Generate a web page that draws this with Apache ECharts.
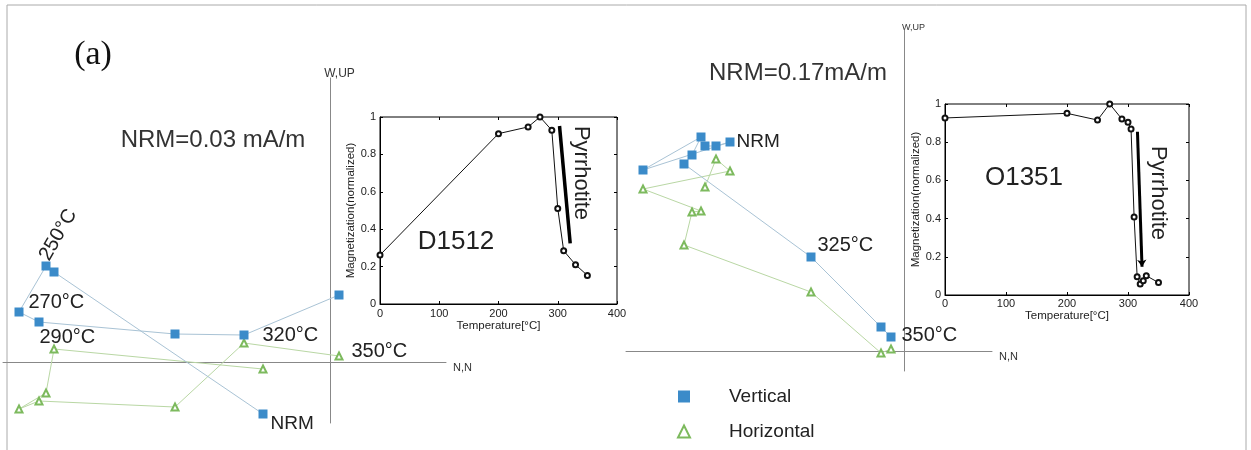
<!DOCTYPE html>
<html>
<head>
<meta charset="utf-8">
<script src="https://cdn.jsdelivr.net/npm/echarts@6/dist/echarts.min.js"></script>
<style>
html,body{margin:0;padding:0;background:#fff}
#main{width:1251px;height:450px}
</style>
</head>
<body>
<div id="main"></div>
<script>
// D1512 zijderveld: N component, vertical (Up) and horizontal (E) projections
var leftN  = [-0.67, -2.76, -2.84, -3.11, -2.91, -1.55, -0.86, 0.09];
var leftUp = [-0.52, 0.90, 0.96, 0.50, 0.40, 0.28, 0.27, 0.67];
var leftE  = [-0.07, 0.13, -0.31, -0.47, -0.39, -0.45, 0.19, 0.06];

// O1351 zijderveld
var rightN  = [-1.99, -1.88, -1.74, -2.61, -2.03, -2.12, -2.20, -0.93, -0.23, -0.13];
var rightUp = [2.05, 2.05, 2.09, 1.81, 2.14, 1.96, 1.87, 0.94, 0.24, 0.14];
var rightE  = [1.64, 1.92, 1.80, 1.62, 1.40, 1.39, 1.06, 0.59, -0.02, 0.02];

// thermal demagnetization curves (insets)
var d1512Temp = [0, 200, 250, 270, 290, 300, 310, 330, 350];
var d1512Mag  = [0.262, 0.911, 0.947, 1.0, 0.929, 0.511, 0.285, 0.21, 0.153];
var o1351Temp = [0, 200, 250, 270, 290, 300, 305, 310, 315, 320, 325, 330, 350];
var o1351Mag  = [0.927, 0.951, 0.916, 1.0, 0.921, 0.904, 0.869, 0.408, 0.096, 0.058, 0.075, 0.101, 0.065];

// pyrrhotite marker bars
var d1512Bar = [[303, 0.952], [321, 0.324]];
var o1351Bar = [[315.5, 0.855], [323, 0.148]];

var FONT = 'Liberation Sans';
var labelBase = {show: true, fontFamily: FONT, fontSize: 20, color: '#222', position: 'right'};

// step labels: index -> [text, offset, extra]
var leftVertLabels = {
    0: ['NRM', [-2, 10], {fontSize: 19}],
    2: ['250°C', [33, -5], {position: 'inside', rotate: 60}],
    3: ['270°C', [0, -10]],
    4: ['290°C', [-9, 15]],
    6: ['320°C', [9, 0]]
};
var leftHorLabels = {7: ['350°C', [3, -5]]};
var rightVertLabels = {
    2: ['NRM', [-3, 0], {fontSize: 19}],
    7: ['325°C', [-3, -12]],
    9: ['350°C', [1, -2]]
};

function buildPoints(xs, ys, labels) {
    return xs.map(function (x, i) {
        var item = {value: [x, ys[i]]};
        var l = labels[i];
        if (l) {
            item.label = Object.assign({}, labelBase, {formatter: l[0], offset: l[1]}, l[2] || {});
        }
        return item;
    });
}

function pairs(xs, ys) {
    return xs.map(function (x, i) { return [x, ys[i]]; });
}

var BLUE = '#3b8bc9', BLUE_LINE = '#a9c3d5';
var GREEN = '#7dba5e', GREEN_LINE = '#b9d7a4';

function zijAxisX(grid, min, max, nameSize) {
    return {
        gridIndex: grid, type: 'value', min: min, max: max,
        axisLine: {onZero: true, lineStyle: {color: '#888', width: 1}},
        axisTick: {show: false}, axisLabel: {show: false}, splitLine: {show: false},
        name: 'N,N', nameLocation: 'end', nameGap: 7,
        nameTextStyle: {fontFamily: FONT, fontSize: nameSize, color: '#333', verticalAlign: 'top'}
    };
}
function zijAxisY(grid, min, max, nameSize) {
    return {
        gridIndex: grid, type: 'value', min: min, max: max,
        axisLine: {onZero: true, lineStyle: {color: '#888', width: 1}},
        axisTick: {show: false}, axisLabel: {show: false}, splitLine: {show: false},
        name: 'W,UP', nameLocation: 'end', nameGap: -2,
        nameTextStyle: {fontFamily: FONT, fontSize: nameSize, color: '#333', padding: [0, 0, 0, 19]}
    };
}
function insetX(grid, top, margin, gap) {
    return {
        gridIndex: grid, type: 'value', min: 0, max: 400, interval: 100,
        position: top ? 'top' : 'bottom',
        axisLine: {show: !top, onZero: false, lineStyle: {color: '#000'}},
        axisTick: {inside: true, length: 3, lineStyle: {color: '#000'}},
        axisLabel: {show: !top, margin: margin, fontFamily: FONT, fontSize: 11, color: '#222'},
        splitLine: {show: false},
        name: top ? '' : 'Temperature[°C]', nameLocation: 'middle', nameGap: gap,
        nameTextStyle: {fontFamily: FONT, fontSize: 11.5, color: '#222'}
    };
}
function insetY(grid, right, gap) {
    return {
        gridIndex: grid, type: 'value', min: 0, max: 1, interval: 0.2,
        position: right ? 'right' : 'left',
        axisLine: {show: !right, onZero: false, lineStyle: {color: '#000'}},
        axisTick: {inside: true, length: 3, lineStyle: {color: '#000'}},
        axisLabel: {show: !right, margin: 4, fontFamily: FONT, fontSize: 11, color: '#222'},
        splitLine: {show: false},
        name: right ? '' : 'Magnetization(normalized)', nameLocation: 'middle', nameGap: gap,
        nameTextStyle: {fontFamily: FONT, fontSize: 11.5, color: '#222'}
    };
}

var chart = echarts.init(document.getElementById('main'));

var option = {
    animation: false,
    backgroundColor: '#fff',
    grid: [
        {left: 3, top: 78, width: 443, height: 345},
        {left: 626, top: 30, width: 366, height: 341},
        {left: 380, top: 117, width: 237, height: 187, show: true, borderColor: '#000', borderWidth: 1},
        {left: 945, top: 104, width: 244, height: 191, show: true, borderColor: '#000', borderWidth: 1}
    ],
    xAxis: [
        zijAxisX(0, -3.27, 1.16, 11),
        zijAxisX(1, -2.78, 0.88, 11),
        insetX(2, false, 4, 15),
        insetX(3, false, 3, 14),
        insetX(2, true),
        insetX(3, true)
    ],
    yAxis: [
        zijAxisY(0, -0.61, 2.84, 12),
        zijAxisY(1, -0.20, 3.21, 9),
        insetY(2, false, 21),
        insetY(3, false, 20),
        insetY(2, true),
        insetY(3, true)
    ],
    legend: {
        orient: 'vertical', left: 672, top: 382, itemWidth: 12, itemHeight: 12, itemGap: 16,
        data: [{name: 'Vertical', icon: 'rect'}, {name: 'Horizontal', icon: 'emptyTriangle'}],
        textStyle: {fontFamily: FONT, fontSize: 19, color: '#222', padding: [0, 0, 0, 34]}
    },
    series: [
        {
            name: 'Vertical', type: 'line', xAxisIndex: 0, yAxisIndex: 0,
            symbol: 'rect', symbolSize: 9, z: 4,
            itemStyle: {color: BLUE}, lineStyle: {color: BLUE_LINE, width: 1},
            label: {show: false},
            data: buildPoints(leftN, leftUp, leftVertLabels)
        },
        {
            name: 'Horizontal', type: 'line', xAxisIndex: 0, yAxisIndex: 0,
            symbol: 'emptyTriangle', symbolSize: 7, z: 3,
            itemStyle: {color: GREEN, borderWidth: 1}, lineStyle: {color: GREEN_LINE, width: 1},
            label: {show: false},
            data: buildPoints(leftN, leftE, leftHorLabels)
        },
        {
            name: 'Vertical', type: 'line', xAxisIndex: 1, yAxisIndex: 1,
            symbol: 'rect', symbolSize: 9, z: 4,
            itemStyle: {color: BLUE}, lineStyle: {color: BLUE_LINE, width: 1},
            label: {show: false},
            data: buildPoints(rightN, rightUp, rightVertLabels)
        },
        {
            name: 'Horizontal', type: 'line', xAxisIndex: 1, yAxisIndex: 1,
            symbol: 'emptyTriangle', symbolSize: 7, z: 3,
            itemStyle: {color: GREEN, borderWidth: 1}, lineStyle: {color: GREEN_LINE, width: 1},
            label: {show: false},
            data: buildPoints(rightN, rightE, {})
        },
        {
            name: 'D1512', type: 'line', xAxisIndex: 2, yAxisIndex: 2,
            symbol: 'emptyCircle', symbolSize: 5,
            itemStyle: {color: '#111'}, lineStyle: {color: '#111', width: 1},
            data: pairs(d1512Temp, d1512Mag)
        },
        {
            name: 'O1351', type: 'line', xAxisIndex: 3, yAxisIndex: 3,
            symbol: 'emptyCircle', symbolSize: 5,
            itemStyle: {color: '#111'}, lineStyle: {color: '#111', width: 1},
            data: pairs(o1351Temp, o1351Mag)
        },
        {
            type: 'lines', coordinateSystem: 'cartesian2d', xAxisIndex: 2, yAxisIndex: 2,
            symbol: ['none', 'none'],
            lineStyle: {color: '#000', width: 3.5, opacity: 1},
            data: [{coords: d1512Bar}]
        },
        {
            type: 'lines', coordinateSystem: 'cartesian2d', xAxisIndex: 3, yAxisIndex: 3,
            symbol: ['none', 'arrow'], symbolSize: 7,
            lineStyle: {color: '#000', width: 3, opacity: 1},
            data: [{coords: o1351Bar}]
        }
    ],
    graphic: [
        {type: 'rect', shape: {x: 7, y: 5, width: 1239, height: 455}, style: {fill: 'none', stroke: '#aaa', lineWidth: 1}, z: -1},
        {type: 'text', x: 93, y: 55, style: {text: '(a)', font: '34px "Liberation Serif"', fill: '#111', align: 'center', verticalAlign: 'middle'}},
        {type: 'text', x: 213, y: 140, style: {text: 'NRM=0.03 mA/m', font: '24px "Liberation Sans"', fill: '#333', align: 'center', verticalAlign: 'middle'}},
        {type: 'text', x: 798, y: 73, style: {text: 'NRM=0.17mA/m', font: '24px "Liberation Sans"', fill: '#333', align: 'center', verticalAlign: 'middle'}},
        {type: 'text', x: 456, y: 242, style: {text: 'D1512', font: '26px "Liberation Sans"', fill: '#222', align: 'center', verticalAlign: 'middle'}},
        {type: 'text', x: 1024, y: 178, style: {text: 'O1351', font: '26px "Liberation Sans"', fill: '#222', align: 'center', verticalAlign: 'middle'}},
        {type: 'text', x: 581, y: 173, rotation: -Math.PI / 2, style: {text: 'Pyrrhotite', font: '22px "Liberation Sans"', fill: '#222', align: 'center', verticalAlign: 'middle'}},
        {type: 'text', x: 1158, y: 193, rotation: -Math.PI / 2, style: {text: 'Pyrrhotite', font: '22px "Liberation Sans"', fill: '#222', align: 'center', verticalAlign: 'middle'}}
    ]
};

chart.setOption(option);
</script>
</body>
</html>
